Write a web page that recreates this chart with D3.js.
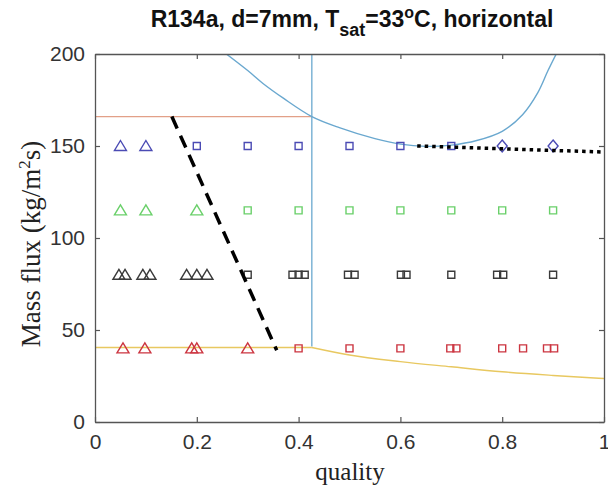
<!DOCTYPE html>
<html>
<head>
<meta charset="utf-8">
<script src="https://cdn.jsdelivr.net/npm/d3@7"></script>
<style>
  body { margin: 0; background: #fff; }
  svg { display: block; }
</style>
</head>
<body>
<svg id="chart"></svg>
<script>
// measured points, grouped by mass flux row and marker shape
const g150Triangles = [0.05, 0.1];
const g150Squares = [0.2, 0.3, 0.4, 0.5, 0.6, 0.7];
const g150Diamonds = [0.8, 0.9];
const g115Triangles = [0.05, 0.1, 0.2];
const g115Squares = [0.3, 0.4, 0.5, 0.6, 0.7, 0.8, 0.9];
const g80Triangles = [0.047, 0.059, 0.094, 0.108, 0.18, 0.2, 0.22];
const g80Squares = [0.3, 0.388, 0.4, 0.412, 0.497, 0.51, 0.601, 0.612, 0.7, 0.79, 0.802, 0.9];
const g40Triangles = [0.055, 0.098, 0.19, 0.2, 0.3];
const g40Squares = [0.4, 0.5, 0.6, 0.698, 0.71, 0.8, 0.841, 0.888, 0.902];

// transition boundaries [quality, mass flux]
const blueCurve = [[0.258, 200], [0.3, 191], [0.33, 184], [0.37, 176], [0.426, 166], [0.48, 160],
  [0.55, 154], [0.6, 151], [0.65, 149.8], [0.7, 150.5], [0.75, 153], [0.8, 158], [0.84, 167],
  [0.87, 179], [0.89, 191], [0.908, 201]];
const orangeLine = [[0, 166], [0.426, 166]];
const verticalLine = [[0.426, 200], [0.426, 41]];
const yellowFlat = [[0, 40.5], [0.426, 40.5]];
const yellowCurve = [[0.426, 40.5], [0.5, 36.4], [0.6, 32.8], [0.7, 30], [0.8, 27.3],
  [0.9, 25.3], [1, 23.6]];
const dashedLine = [[0.151, 166], [0.357, 39]];
const dottedLine = [[0.633, 150], [1, 146.7]];

const xTicks = [0, 0.2, 0.4, 0.6, 0.8, 1];
const yTicks = [0, 50, 100, 150, 200];

const W = 608, H = 490;
const margin = {top: 54, right: 4, bottom: 68, left: 95};
const width = W - margin.left - margin.right;
const height = H - margin.top - margin.bottom;

const svg = d3.select('#chart').attr('width', W).attr('height', H);
const g = svg.append('g')
  .attr('transform', 'translate(' + margin.left + ',' + margin.top + ')');

const x = d3.scaleLinear().domain([0, 1]).range([0, width]);
const y = d3.scaleLinear().domain([0, 200]).range([height, 0]);

g.append('defs').append('clipPath').attr('id', 'clip')
  .append('rect').attr('width', width).attr('height', height);

const plot = g.append('g').attr('clip-path', 'url(#clip)');

const line = d3.line().x(d => x(d[0])).y(d => y(d[1]));
const smooth = d3.line().x(d => x(d[0])).y(d => y(d[1])).curve(d3.curveMonotoneX);
const round = d3.line().x(d => x(d[0])).y(d => y(d[1])).curve(d3.curveCatmullRom.alpha(0.5));

plot.append('path').datum(orangeLine).attr('d', line)
  .attr('fill', 'none').attr('stroke', '#e2a088').attr('stroke-width', 1.3);
plot.append('path').datum(verticalLine).attr('d', line)
  .attr('fill', 'none').attr('stroke', '#6aa8cf').attr('stroke-width', 1.3);
plot.append('path').datum(blueCurve).attr('d', round)
  .attr('fill', 'none').attr('stroke', '#6aa8cf').attr('stroke-width', 1.4);
plot.append('path').datum(yellowFlat).attr('d', line)
  .attr('fill', 'none').attr('stroke', '#e8c860').attr('stroke-width', 1.4);
plot.append('path').datum(yellowCurve).attr('d', smooth)
  .attr('fill', 'none').attr('stroke', '#e8c860').attr('stroke-width', 1.4);

// markers
function trianglePath(s) {
  return 'M0,' + (-s * 0.55) + 'L' + (s * 0.6) + ',' + (s * 0.45) + 'L' + (-s * 0.6) + ',' + (s * 0.45) + 'Z';
}
function squarePath(s) {
  return 'M' + (-s / 2) + ',' + (-s / 2) + 'h' + s + 'v' + s + 'h' + (-s) + 'Z';
}
function diamondPath(s) {
  return 'M0,' + (-s * 0.6) + 'L' + (s * 0.5) + ',0L0,' + (s * 0.6) + 'L' + (-s * 0.5) + ',0Z';
}

const groups = [
  {vals: g150Triangles, G: 150, color: '#4b4bb4', path: trianglePath(10)},
  {vals: g150Squares, G: 150, color: '#4b4bb4', path: squarePath(7)},
  {vals: g150Diamonds, G: 150, color: '#4b4bb4', path: diamondPath(10)},
  {vals: g115Triangles, G: 115, color: '#6ad06a', path: trianglePath(10)},
  {vals: g115Squares, G: 115, color: '#6ad06a', path: squarePath(7)},
  {vals: g80Triangles, G: 80, color: '#3a3a3a', path: trianglePath(10)},
  {vals: g80Squares, G: 80, color: '#3a3a3a', path: squarePath(7)},
  {vals: g40Triangles, G: 40, color: '#cc3540', path: trianglePath(10)},
  {vals: g40Squares, G: 40, color: '#cc3540', path: squarePath(7)}
];

groups.forEach(function(grp) {
  plot.selectAll(null)
    .data(grp.vals)
    .enter().append('path')
    .attr('d', grp.path)
    .attr('transform', d => 'translate(' + x(d) + ',' + y(grp.G) + ')')
    .attr('fill', 'none')
    .attr('stroke', grp.color)
    .attr('stroke-width', 1.4);
});

plot.append('path').datum(dashedLine).attr('d', line)
  .attr('fill', 'none').attr('stroke', '#000').attr('stroke-width', 3.5)
  .attr('stroke-dasharray', '13,8');
plot.append('path').datum(dottedLine).attr('d', line)
  .attr('fill', 'none').attr('stroke', '#000').attr('stroke-width', 3.5)
  .attr('stroke-dasharray', '3.5,4');

// axes with inward ticks, box on
const axisColor = '#555';
const fontAxis = 'Liberation Sans, Arial, sans-serif';

const xb = g.append('g').attr('transform', 'translate(0,' + height + ')')
  .call(d3.axisBottom(x).tickValues(xTicks).tickFormat(d3.format('~g')).tickSizeInner(-5).tickSizeOuter(0).tickPadding(12));
const xt = g.append('g')
  .call(d3.axisTop(x).tickValues(xTicks).tickFormat('').tickSizeInner(-5).tickSizeOuter(0));
const yl = g.append('g')
  .call(d3.axisLeft(y).tickValues(yTicks).tickSizeInner(-5).tickSizeOuter(0).tickPadding(10));
const yr = g.append('g').attr('transform', 'translate(' + width + ',0)')
  .call(d3.axisRight(y).tickValues(yTicks).tickFormat('').tickSizeInner(-5).tickSizeOuter(0));

[xb, xt, yl, yr].forEach(function(a) {
  a.select('.domain').attr('stroke', axisColor).attr('stroke-width', 1.3);
  a.selectAll('.tick line').attr('stroke', axisColor).attr('stroke-width', 1.2);
  a.selectAll('.tick text').attr('fill', '#333').style('font-family', fontAxis).style('font-size', '21px');
});

// title
const title = svg.append('text')
  .attr('x', 352).attr('y', 27)
  .attr('text-anchor', 'middle')
  .style('font-family', fontAxis).style('font-weight', 'bold').style('font-size', '23px')
  .attr('fill', '#111');
title.append('tspan').text('R134a, d=7mm, T');
title.append('tspan').attr('dy', 9).style('font-size', '18px').text('sat');
title.append('tspan').attr('dy', -9).text('=33');
title.append('tspan').attr('dy', -9).style('font-size', '16px').text('o');
title.append('tspan').attr('dy', 9).text('C, horizontal');

// axis labels
svg.append('text')
  .attr('x', 350).attr('y', 480)
  .attr('text-anchor', 'middle')
  .style('font-family', 'Liberation Serif, Times New Roman, serif').style('font-size', '25px')
  .attr('fill', '#222')
  .text('quality');

const ylab = svg.append('text')
  .attr('transform', 'translate(40,244) rotate(-90)')
  .attr('text-anchor', 'middle')
  .style('font-family', 'Liberation Serif, Times New Roman, serif').style('font-size', '27px')
  .attr('fill', '#222');
ylab.append('tspan').text('Mass flux (kg/m');
ylab.append('tspan').attr('dy', -10).style('font-size', '17px').text('2');
ylab.append('tspan').attr('dy', 10).text('s)');
</script>
</body>
</html>
